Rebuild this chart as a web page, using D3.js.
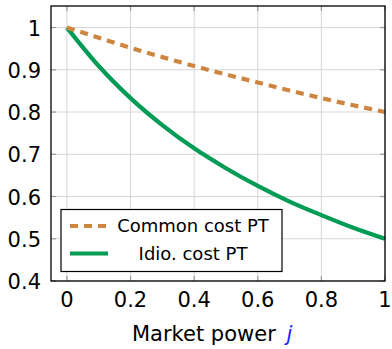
<!DOCTYPE html>
<html>
<head>
<meta charset="utf-8">
<script src="https://cdn.jsdelivr.net/npm/d3@7"></script>
<style>
  body { margin: 0; background: #fff; }
  text { font-family: "DejaVu Sans", sans-serif; fill: #000; }
</style>
</head>
<body>
<svg id="chart" width="392" height="349"></svg>
<script>
var power = [0, 0.1, 0.2, 0.3, 0.4, 0.5, 0.6, 0.7, 0.8, 0.9, 1];
var commonCost = [1, 0.976, 0.952, 0.930, 0.909, 0.889, 0.870, 0.851, 0.833, 0.816, 0.8];
var idioCost = [1, 0.909, 0.833, 0.769, 0.714, 0.667, 0.625, 0.588, 0.556, 0.526, 0.5];
var xTicks = [0, 0.2, 0.4, 0.6, 0.8, 1];
var yTicks = [0.4, 0.5, 0.6, 0.7, 0.8, 0.9, 1];
var seriesNames = ["Common cost PT", "Idio. cost PT"];

var svg = d3.select("#chart");
var plot = {left: 51, right: 385, top: 6, bottom: 281};

var x = d3.scaleLinear().domain([-0.05, 1]).range([plot.left, plot.right]);
var y = d3.scaleLinear().domain([0.4, 1.051]).range([plot.bottom, plot.top]);

var fmt = function(d) { return d === 0 ? "0" : d === 1 ? "1" : d3.format(".1f")(d); };

// grid
svg.append("g").selectAll("line")
    .data(xTicks)
  .enter().append("line")
    .attr("x1", function(d) { return x(d); })
    .attr("x2", function(d) { return x(d); })
    .attr("y1", plot.top).attr("y2", plot.bottom)
    .style("stroke", "#d6d6d6").style("stroke-width", 1);

svg.append("g").selectAll("line")
    .data(yTicks)
  .enter().append("line")
    .attr("y1", function(d) { return y(d); })
    .attr("y2", function(d) { return y(d); })
    .attr("x1", plot.left).attr("x2", plot.right)
    .style("stroke", "#d6d6d6").style("stroke-width", 1);

// inner ticks on all four sides
var tk = svg.append("g").style("stroke", "#999").style("stroke-width", 1.2);
xTicks.forEach(function(d) {
  tk.append("line").attr("x1", x(d)).attr("x2", x(d)).attr("y1", plot.bottom).attr("y2", plot.bottom - 5);
  tk.append("line").attr("x1", x(d)).attr("x2", x(d)).attr("y1", plot.top).attr("y2", plot.top + 5);
});
yTicks.forEach(function(d) {
  tk.append("line").attr("y1", y(d)).attr("y2", y(d)).attr("x1", plot.left).attr("x2", plot.left + 5);
  tk.append("line").attr("y1", y(d)).attr("y2", y(d)).attr("x1", plot.right).attr("x2", plot.right - 5);
});

// lines
var line = d3.line()
    .x(function(d) { return x(d[0]); })
    .y(function(d) { return y(d[1]); })
    .curve(d3.curveMonotoneX);

svg.append("path")
    .datum(d3.zip(power, idioCost))
    .attr("d", line)
    .style("fill", "none")
    .style("stroke", "#009b55")
    .style("stroke-width", 4.2);

svg.append("path")
    .datum(d3.zip(power, commonCost))
    .attr("d", line)
    .style("fill", "none")
    .style("stroke", "#cd853f")
    .style("stroke-width", 4.2)
    .style("stroke-dasharray", "8,6");

// frame
svg.append("rect")
    .attr("x", plot.left).attr("y", plot.top)
    .attr("width", plot.right - plot.left).attr("height", plot.bottom - plot.top)
    .style("fill", "none").style("stroke", "#000").style("stroke-width", 1.3);

// tick labels
svg.append("g").selectAll("text")
    .data(xTicks)
  .enter().append("text")
    .attr("x", function(d) { return x(d); })
    .attr("y", plot.bottom + 26)
    .attr("text-anchor", "middle")
    .style("font-size", "21px")
    .text(fmt);

svg.append("g").selectAll("text")
    .data(yTicks)
  .enter().append("text")
    .attr("x", plot.left - 10)
    .attr("y", function(d) { return y(d) + 8; })
    .attr("text-anchor", "end")
    .style("font-size", "21px")
    .text(fmt);

// axis label
var xl = svg.append("text")
    .attr("x", 132).attr("y", 341)
    .style("font-size", "21px");
xl.append("tspan").text("Market power ");
xl.append("tspan").text("j").attr("dx", 4)
    .style("fill", "#1f1fff").style("font-style", "italic");

// legend
var lg = svg.append("g");
lg.append("rect")
    .attr("x", 61).attr("y", 209.5)
    .attr("width", 221).attr("height", 62)
    .style("fill", "#fff").style("stroke", "#000").style("stroke-width", 1.2);

var styles = [
  {color: "#cd853f", dash: "8,6"},
  {color: "#009b55", dash: null}
];
seriesNames.forEach(function(name, i) {
  var cy = 226 + i * 27.5;
  lg.append("line")
      .attr("x1", 70).attr("x2", 108)
      .attr("y1", cy).attr("y2", cy)
      .style("stroke", styles[i].color)
      .style("stroke-width", 4.2)
      .style("stroke-dasharray", styles[i].dash);
  lg.append("text")
      .attr("x", 193).attr("y", cy + 6.3)
      .attr("text-anchor", "middle")
      .style("font-size", "18px")
      .text(name);
});
</script>
</body>
</html>
